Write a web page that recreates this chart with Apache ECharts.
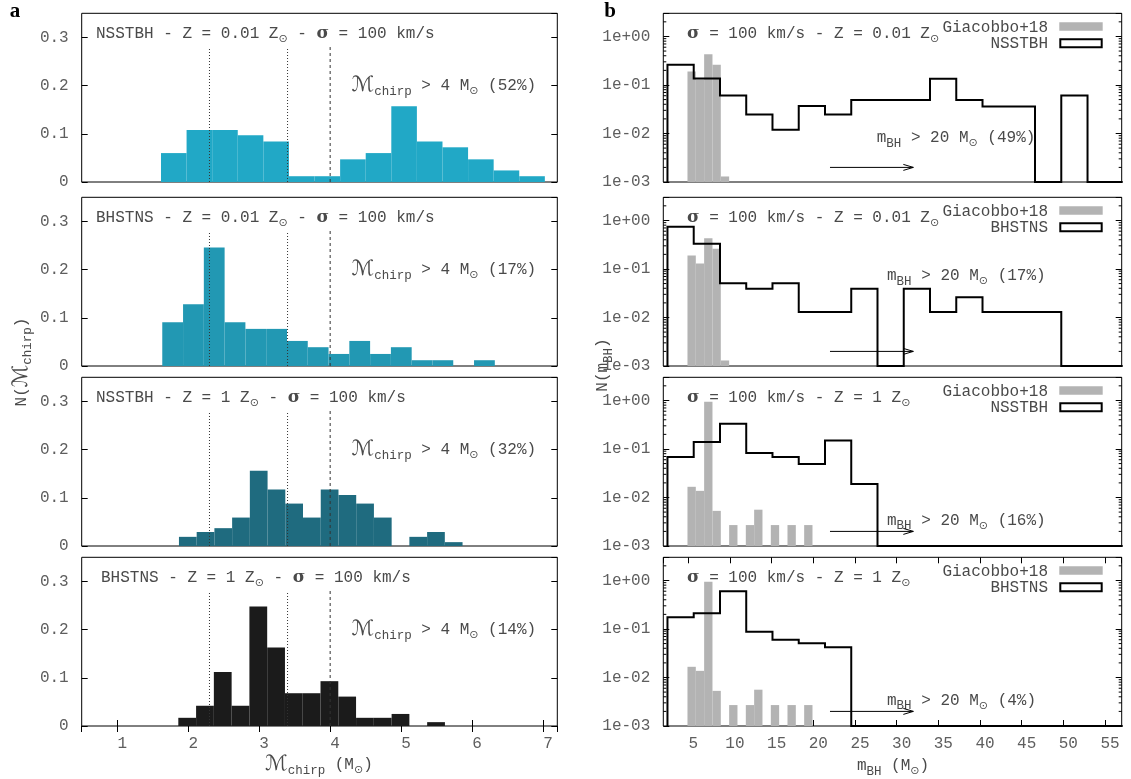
<!DOCTYPE html>
<html><head><meta charset="utf-8">
<script src="https://cdn.jsdelivr.net/npm/echarts@6.0.0/dist/echarts.min.js"></script>
<style>html,body{margin:0;padding:0;background:#fff}#c{width:1131px;height:779px}</style>
</head><body><div id="c"></div>
<script>
// ================= DATA =================
// Left column: chirp-mass histograms
const chirpTickValues = [1, 2, 3, 4, 5, 6, 7];
const chirpTickLabels = ['1', '2', '3', '4', '5', '6', '7'];
const chirpYTickValues = [0, 0.1, 0.2, 0.3];
const chirpYTickLabels = ['0', '0.1', '0.2', '0.3'];
const leftPop = ['NSSTBH', 'BHSTNS', 'NSSTBH', 'BHSTNS'];
const leftZ = ['0.01', '0.01', '1', '1'];
const leftPercents = ['52%', '17%', '32%', '14%'];
const chirpBinStart = [1.617, 1.635, 1.870, 1.861];
const chirpBinWidth = [0.3605, 0.2928, 0.2497, 0.2504];
const chirpNsstbhLowZ = [0.060, 0.108, 0.108, 0.097, 0.084, 0.012, 0.012, 0.047, 0.060, 0.157, 0.084, 0.072, 0.047, 0.024, 0.012];
const chirpBhstnsLowZ = [0.091, 0.128, 0.246, 0.091, 0.077, 0.077, 0.052, 0.039, 0.025, 0.052, 0.025, 0.039, 0.012, 0.012, 0, 0.012];
const chirpNsstbhSolarZ = [0.019, 0.029, 0.037, 0.059, 0.156, 0.117, 0.088, 0.059, 0.117, 0.106, 0.088, 0.059, 0, 0.019, 0.029, 0.008];
const chirpBhstnsSolarZ = [0.017, 0.042, 0.112, 0.042, 0.248, 0.163, 0.068, 0.068, 0.093, 0.061, 0.017, 0.017, 0.025, 0, 0.008];
const chirpRefLines = [2.3, 3.4, 4.0];
const chirpRefLineTop = 0.28;

// Right column: BH-mass histograms (log scale)
const mbhTickValues = [5, 10, 15, 20, 25, 30, 35, 40, 45, 50, 55];
const mbhTickLabels = ['5', '10', '15', '20', '25', '30', '35', '40', '45', '50', '55'];
const logTickValues = [0.001, 0.01, 0.1, 1];
const logTickLabels = ['1e-03', '1e-02', '1e-01', '1e+00'];
const rightPop = ['NSSTBH', 'BHSTNS', 'NSSTBH', 'BHSTNS'];
const rightZ = ['0.01', '0.01', '1', '1'];
const rightPercents = ['49%', '17%', '16%', '4%'];
const mbhEdges = [2.5, 5.65, 8.8, 11.95, 15.1, 18.25, 21.4, 24.55, 27.7, 30.85, 34.0, 37.15, 40.3, 43.45, 46.6, 49.75, 52.9, 56.05];
const mbhNsstbhLowZ = [0.26, 0.136, 0.0605, 0.0245, 0.012, 0.037, 0.0245, 0.049, 0.049, 0.049, 0.134, 0.049, 0.0359, 0.0359, 0, 0.0605, 0];
const mbhBhstnsLowZ = [0.74, 0.33, 0.051, 0.039, 0.051, 0.0129, 0.0129, 0.039, 0, 0.039, 0.0129, 0.026, 0.0129, 0.0129, 0.0129, 0, 0];
const mbhNsstbhSolarZ = [0.068, 0.14, 0.33, 0.083, 0.068, 0.049, 0.15, 0.019, 0, 0, 0, 0, 0, 0, 0, 0, 0];
const mbhBhstnsSolarZ = [0.174, 0.21, 0.6, 0.088, 0.06, 0.051, 0.042, 0, 0, 0, 0, 0, 0, 0, 0, 0, 0];
const giacBinStart = 4.9;
const giacBinWidth = 1.0;
const giacLowZ = [0.19, 0.13, 0.43, 0.26, 0.0013];
const giacSolarZ = [0.0166, 0.0137, 0.94, 0.0053, 0, 0.0027, 0, 0.0027, 0.0056, 0, 0.0027, 0, 0.0027, 0, 0.0027];
const arrowFrom = 22, arrowTo = 32, arrowLevel = 0.002;

// ================= LAYOUT / STYLE =================
const gridTops = [13.3, 197.3, 377.3, 557.3];
const gridH = 168.7;
const LG = { left: 81.7, width: 475.6 };
const RG = { left: 663.3, width: 458.4 };
const chirpX = [0.5, 7.2], chirpY = [0, 0.35];
const mbhX = [2, 57], mbhY = [0.001, 3];
const leftColors = ['#21a8c6', '#2298b3', '#1f6b7f', '#1b1b1b'];
const greyColor = '#b3b3b3';
const mono = '"Liberation Mono", "Courier New", monospace';
const txtColor = '#4a4a4a';
const lblColor = '#5e5e5e';

const chirpSets = [chirpNsstbhLowZ, chirpBhstnsLowZ, chirpNsstbhSolarZ, chirpBhstnsSolarZ];
const mbhSets = [mbhNsstbhLowZ, mbhBhstnsLowZ, mbhNsstbhSolarZ, mbhBhstnsSolarZ];
const giacSets = [giacLowZ, giacLowZ, giacSolarZ, giacSolarZ];

const rich = {
  t: { fontFamily: mono, fontSize: 16, lineHeight: 20, color: txtColor },
  sb: { fontFamily: mono, fontSize: 12.5, lineHeight: 12, padding: [11, 0, 0, 0], color: txtColor },
  o: { fontFamily: '"DejaVu Sans"', fontSize: 11, lineHeight: 12, padding: [11, 0, 0, 0], color: '#666' },
  s: { fontFamily: '"DejaVu Serif"', fontSize: 17, fontWeight: 'bold', lineHeight: 20, color: '#111' },
  M: { fontFamily: '"DejaVu Sans"', fontSize: 21, lineHeight: 24, color: '#1a1a1a' }
};

function txt(x, y, text, align, rot) {
  return {
    type: 'text', x: x, y: y, rotation: rot || 0, silent: true,
    style: { text: text, rich: rich, align: align || 'left', textAlign: align || 'left',
             verticalAlign: 'middle', textVerticalAlign: 'middle', fill: txtColor }
  };
}

function fmtFrom(values, labels) {
  return function (v) {
    for (let k = 0; k < values.length; k++) {
      const t = values[k];
      if (Math.abs(t - v) <= Math.max(1e-9, Math.abs(t) * 1e-6)) return labels[k];
    }
    return '';
  };
}

const tickStyle = { color: '#000', width: 1 };
const labelBase = { color: lblColor, fontFamily: mono, fontSize: 16 };

const grids = [], xAxes = [], yAxes = [], series = [], graphics = [];

function rectSeries(xi, yi, starts, width, vals, base, color, z) {
  const data = [];
  vals.forEach((v, i) => { if (v > 0) data.push([starts + i * width, starts + (i + 1) * width, v]); });
  return {
    type: 'custom', xAxisIndex: xi, yAxisIndex: yi, data: data, encode: { x: [0, 1], y: 2 }, z: z,
    silent: true, animation: false,
    renderItem: function (p, api) {
      const a = api.coord([api.value(0), base]);
      const b = api.coord([api.value(1), api.value(2)]);
      return { type: 'rect', shape: { x: a[0], y: b[1], width: b[0] - a[0], height: a[1] - b[1] },
               style: { fill: color } };
    }
  };
}

// ---------- LEFT COLUMN ----------
for (let i = 0; i < 4; i++) {
  const gi = grids.length;
  grids.push({ left: LG.left, width: LG.width, top: gridTops[i], height: gridH, show: true,
               borderColor: '#000', borderWidth: 1, backgroundColor: 'transparent', outerBoundsMode: 'none' });
  const bottom = i === 3;
  const xi = xAxes.length;
  xAxes.push({ gridIndex: gi, type: 'value', min: chirpX[0], max: chirpX[1], splitNumber: 7, position: 'bottom',
    axisLine: { show: false }, splitLine: { show: false },
    axisTick: { show: bottom, inside: true, length: 6, lineStyle: tickStyle },
    axisLabel: Object.assign({ show: bottom, margin: 10, padding: [0, 0, 0, 10], showMinLabel: false, showMaxLabel: false,
      formatter: fmtFrom(chirpTickValues, chirpTickLabels) }, labelBase) });
  if (bottom) {
    xAxes.push({ gridIndex: gi, type: 'value', min: chirpX[0], max: chirpX[1], splitNumber: 7, position: 'top',
      axisLine: { show: false }, splitLine: { show: false },
      axisTick: { show: true, inside: true, length: 6, lineStyle: tickStyle }, axisLabel: { show: false } });
  }
  const yi = yAxes.length;
  yAxes.push({ gridIndex: gi, type: 'value', min: chirpY[0], max: chirpY[1], interval: 0.1, position: 'left',
    axisLine: { show: false }, splitLine: { show: false },
    axisTick: { show: true, inside: true, length: 6, lineStyle: tickStyle },
    axisLabel: Object.assign({ margin: 13, showMaxLabel: false, formatter: fmtFrom(chirpYTickValues, chirpYTickLabels) }, labelBase) });
  yAxes.push({ gridIndex: gi, type: 'value', min: chirpY[0], max: chirpY[1], interval: 0.1, position: 'right',
    axisLine: { show: false }, splitLine: { show: false },
    axisTick: { show: true, inside: true, length: 6, lineStyle: tickStyle }, axisLabel: { show: false } });

  series.push(rectSeries(xi, yi, chirpBinStart[i], chirpBinWidth[i], chirpSets[i], 0, leftColors[i], 2));
  series.push({
    type: 'custom', xAxisIndex: xi, yAxisIndex: yi, z: 3, silent: true, animation: false,
    data: chirpRefLines.map((x, k) => [x, chirpRefLineTop, k]), encode: { x: 0, y: 1 },
    renderItem: function (p, api) {
      const a = api.coord([api.value(0), 0]);
      const b = api.coord([api.value(0), api.value(1)]);
      const dashed = api.value(2) >= 2;
      return { type: 'line', shape: { x1: a[0], y1: a[1], x2: b[0], y2: b[1] },
               style: { stroke: '#333', lineWidth: 1, lineDash: dashed ? [3, 3] : [1, 2] } };
    }
  });

  const top = gridTops[i];
  const tx = i === 3 ? 101 : 96;
  graphics.push(txt(tx, top + 20.7,
    '{t|' + leftPop[i] + ' - Z = ' + leftZ[i] + ' Z}{o|⊙}{t| - }{s|σ}{t| = 100 km/s}'));
  graphics.push(txt(351.7, top + 72.7,
    '{M|ℳ}{sb|chirp}{t| > 4 M}{o|⊙}{t| (' + leftPercents[i] + ')}'));
}

// ---------- RIGHT COLUMN ----------
const minorVals = [];
[-3, -2, -1, 0].forEach(e => { for (let m = 2; m <= 9; m++) { const v = m * Math.pow(10, e); if (v < mbhY[1]) minorVals.push(v); } });

for (let i = 0; i < 4; i++) {
  const gi = grids.length;
  grids.push({ left: RG.left, width: RG.width, top: gridTops[i], height: gridH, show: true,
               borderColor: '#000', borderWidth: 1, backgroundColor: 'transparent', outerBoundsMode: 'none' });
  const bottom = i === 3;
  const xi = xAxes.length;
  xAxes.push({ gridIndex: gi, type: 'value', min: mbhX[0], max: mbhX[1], splitNumber: 11, position: 'bottom',
    axisLine: { show: false }, splitLine: { show: false },
    axisTick: { show: bottom, inside: true, length: 6, lineStyle: tickStyle },
    axisLabel: Object.assign({ show: bottom, margin: 10, padding: [0, 0, 0, 10], showMinLabel: false, showMaxLabel: false,
      formatter: fmtFrom(mbhTickValues, mbhTickLabels) }, labelBase) });
  if (bottom) {
    xAxes.push({ gridIndex: gi, type: 'value', min: mbhX[0], max: mbhX[1], splitNumber: 11, position: 'top',
      axisLine: { show: false }, splitLine: { show: false },
      axisTick: { show: true, inside: true, length: 6, lineStyle: tickStyle }, axisLabel: { show: false } });
  }
  const yi = yAxes.length;
  yAxes.push({ gridIndex: gi, type: 'log', logBase: 10, min: mbhY[0], max: mbhY[1], position: 'left',
    axisLine: { show: false }, splitLine: { show: false },
    axisTick: { show: true, inside: true, length: 6, lineStyle: tickStyle },
    axisLabel: Object.assign({ margin: 13, formatter: fmtFrom(logTickValues, logTickLabels) }, labelBase) });
  yAxes.push({ gridIndex: gi, type: 'log', logBase: 10, min: mbhY[0], max: mbhY[1], position: 'right',
    axisLine: { show: false }, splitLine: { show: false },
    axisTick: { show: true, inside: true, length: 6, lineStyle: tickStyle }, axisLabel: { show: false } });

  // grey Giacobbo+18 bars
  series.push(rectSeries(xi, yi, giacBinStart, giacBinWidth, giacSets[i], mbhY[0], greyColor, 2));

  // step histogram
  const vals = mbhSets[i];
  const pts = [[mbhEdges[0], mbhY[0]]];
  vals.forEach((v, k) => pts.push([mbhEdges[k], v > 0 ? v : mbhY[0]]));
  pts.push([mbhEdges[vals.length], mbhY[0]]);
  pts.push([mbhX[1], mbhY[0]]);
  series.push({ type: 'line', xAxisIndex: xi, yAxisIndex: yi, data: pts, step: 'end', symbol: 'none',
    z: 4, silent: true, animation: false,
    lineStyle: { color: '#000', width: 2, join: 'miter', cap: 'square' } });

  // arrow
  series.push({
    type: 'custom', xAxisIndex: xi, yAxisIndex: yi, z: 5, silent: true, animation: false,
    data: [[arrowFrom, arrowTo, arrowLevel]], encode: { x: [0, 1], y: 2 },
    renderItem: function (p, api) {
      const a = api.coord([api.value(0), api.value(2)]);
      const b = api.coord([api.value(1), api.value(2)]);
      return { type: 'group', children: [
        { type: 'line', shape: { x1: a[0], y1: a[1], x2: b[0], y2: b[1] }, style: { stroke: '#000', lineWidth: 1 } },
        { type: 'polyline', shape: { points: [[b[0] - 10, b[1] - 3], [b[0], b[1]], [b[0] - 10, b[1] + 3]] },
          style: { stroke: '#000', lineWidth: 1, fill: null } }
      ] };
    }
  });

  // minor log ticks on both sides
  series.push({
    type: 'custom', xAxisIndex: xi, yAxisIndex: yi, z: 5, silent: true, animation: false, clip: false,
    data: minorVals.map(v => [mbhX[0], v]), encode: { x: 0, y: 1 },
    renderItem: function (p, api) {
      const a = api.coord([mbhX[0], api.value(1)]);
      const b = api.coord([mbhX[1], api.value(1)]);
      return { type: 'group', children: [
        { type: 'line', shape: { x1: a[0], y1: a[1], x2: a[0] + 3, y2: a[1] }, style: { stroke: '#000', lineWidth: 1 } },
        { type: 'line', shape: { x1: b[0] - 3, y1: b[1], x2: b[0], y2: b[1] }, style: { stroke: '#000', lineWidth: 1 } }
      ] };
    }
  });

  const top = gridTops[i];
  graphics.push(txt(687, top + 20, '{s|σ}{t| = 100 km/s - Z = ' + rightZ[i] + ' Z}{o|⊙}'));
  graphics.push(txt(i === 0 ? 876.7 : 887, i === 0 ? top + 124.7 : (i === 1 ? top + 78.7 : top + 143),
    '{t|m}{sb|BH}{t| > 20 M}{o|⊙}{t| (' + rightPercents[i] + ')}'));
  // legend
  graphics.push(txt(1048, top + 14, '{t|Giacobbo+18}', 'right'));
  graphics.push(txt(1048, top + 30, '{t|' + rightPop[i] + '}', 'right'));
  graphics.push({ type: 'rect', silent: true, shape: { x: 1059.3, y: top + 9, width: 43.4, height: 8.4 }, style: { fill: greyColor } });
  graphics.push({ type: 'rect', silent: true, shape: { x: 1060.3, y: top + 26, width: 41.4, height: 8 },
                  style: { fill: '#fff', stroke: '#000', lineWidth: 2 } });
}

// axis titles and panel letters
graphics.push(txt(22, 362, '{t|N(}{M|ℳ}{sb|chirp}{t|)}', 'center', Math.PI / 2));
graphics.push(txt(603, 365, '{t|N(m}{sb|BH}{t|)}', 'center', Math.PI / 2));
graphics.push(txt(319, 765, '{M|ℳ}{sb|chirp}{t| (M}{o|⊙}{t|)}', 'center'));
graphics.push(txt(893, 766, '{t|m}{sb|BH}{t| (M}{o|⊙}{t|)}', 'center'));
graphics.push({ type: 'text', x: 15, y: 12, silent: true,
  style: { text: 'a', fontFamily: '"Liberation Serif"', fontWeight: 'bold', fontSize: 21, fill: '#000',
           align: 'center', textAlign: 'center', verticalAlign: 'middle', textVerticalAlign: 'middle' } });
graphics.push({ type: 'text', x: 610, y: 12, silent: true,
  style: { text: 'b', fontFamily: '"Liberation Serif"', fontWeight: 'bold', fontSize: 21, fill: '#000',
           align: 'center', textAlign: 'center', verticalAlign: 'middle', textVerticalAlign: 'middle' } });

const chart = echarts.init(document.getElementById('c'), null, { renderer: 'canvas', width: 1131, height: 779 });
chart.setOption({
  backgroundColor: '#fff',
  animation: false,
  grid: grids,
  xAxis: xAxes,
  yAxis: yAxes,
  series: series,
  graphic: { elements: graphics }
});
</script>
</body></html>
